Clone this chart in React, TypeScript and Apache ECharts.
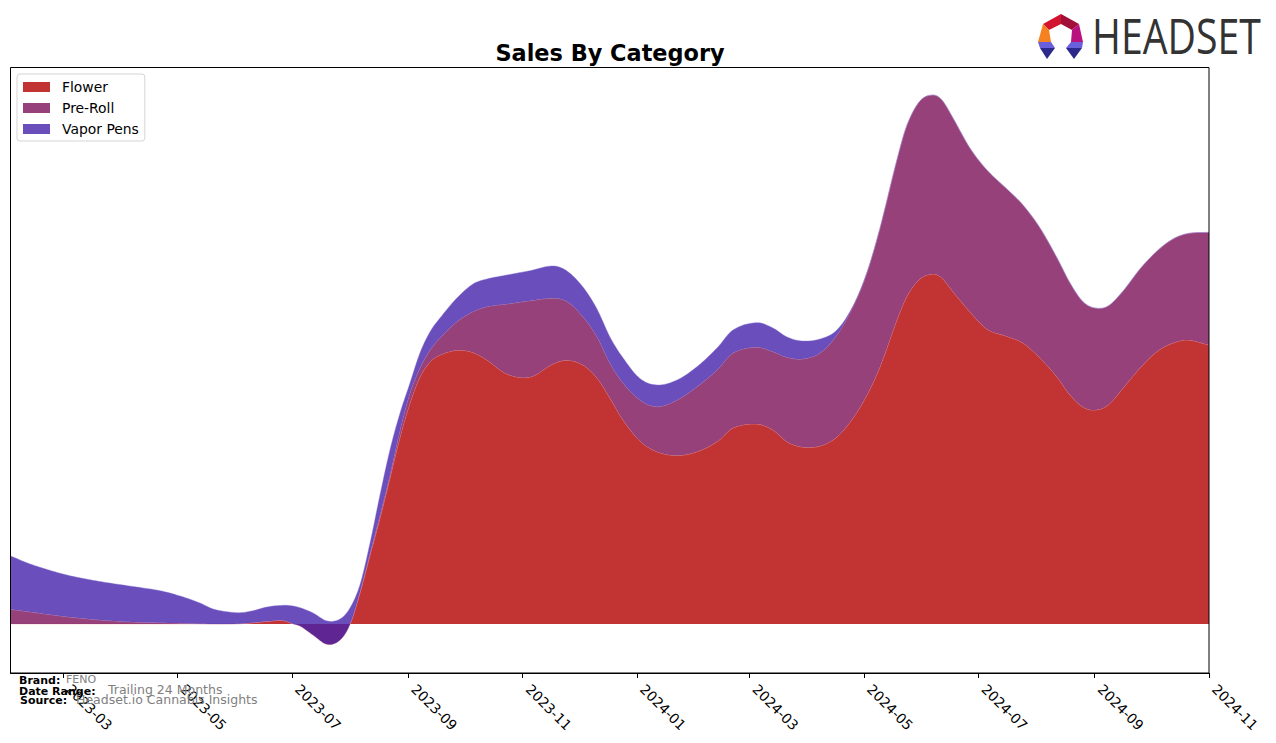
import React, { useEffect, useRef } from "react";
import * as echarts from "echarts";

const tickLabels = ["2023-03","2023-05","2023-07","2023-09","2023-11","2024-01","2024-03","2024-05","2024-07","2024-09","2024-11"];
const startDate = "2023-02-01";
const endDate = "2024-11-01";
// days since the start of the range
const dayOffsets = [0,12,30.1,47.7,65.3,79.7,90.4,101,108,115.4,122.4,129.3,136.8,145.3,150.6,154.4,161.3,168.8,175.7,181,186.3,191.7,197,202.3,207.7,213,218.3,223.7,229,238,246.6,254,264.7,277,289.2,296.7,305.2,312.7,319.6,326.6,335.6,344.7,355.4,366,376.7,385.2,398,406.5,414,422,431.6,440.6,449.2,456.6,463.6,472.6,478,484.9,491.8,496.6,502.5,511.5,520.6,531.8,539.8,548.9,558,564.9,571.8,578.2,585.2,593.2,602.2,611.3,619.8,627.8,639];
const flower = [0,0,0,0,0,0,0,0,0,0,0.3,1.3,2.7,3.5,0.2,-2,-11,-20.3,-16,-0.3,31,69,106,146,187,221,247,262,269,273.7,271.5,264,250,247,260,263.7,259,246,226,204,183,172.3,168.5,172.3,182.3,196,200,194,182.3,177,178,187,206,229,257.3,304,328,345,350,346,332.3,312.3,295,287.3,281,266,247,229,217,214,219,236,256,272.5,281,284,279];
const preRoll = [14.7,11.7,7.3,4,2,1.3,0.8,0.3,0,0,0,0,0,0,0,0,0,0,0,0,1,2,3,3,7,10,9,12,17,28.6,40.8,53.3,70,76.3,65.7,58.8,48.3,41.3,35,37,41,45,55.5,65,71.7,75,76.7,78.3,84.4,88,93,102,111.3,122,138.7,160,171,178,179,178,173.7,163.7,159,146.7,138,130,119,112,105.3,102,99,97,99,100.5,104,106.5,112.7];
const vaporPens = [53.3,47.3,41.7,38.5,35.5,32,27.2,20.7,15,12.3,11,12,14.3,15.2,17.8,18.3,22,23.3,21,16.3,7,10,20,25,17,10,15,18.3,20,23.7,27.7,27.7,29,30,32.3,30.5,29.7,27.7,26,25,21.5,21.7,20,20,22,23,24.6,23.7,20.3,18,14,5,0.7,0.5,0,0,0,0,0,0,0,0,0,0,0,0,0,0,0,0,0,0,0,0,0,0,0];

const FLOWER = "rgba(179,0,0,0.8)";
const PREROLL = "rgba(124,17,89,0.8)";
const VAPOR = "rgba(69,34,171,0.8)";
const DAY = 86400000;
const t0 = Date.parse(startDate);
const xs = dayOffsets.map((d) => t0 + d * DAY);

const addUp = (a: number[], b: number[]) => a.map((v, i) => v + b[i]);
const zero = flower.map(() => 0);
const top1 = flower;
const top2 = addUp(top1, preRoll);
const top3 = addUp(top2, vaporPens);

// Smooth curve through pixel points (cubic Hermite with finite-difference slopes).
function curve(p: number[][]): number[][] {
  const n = p.length;
  const m = p.map((_, i) => {
    const a = p[Math.max(i - 1, 0)], b = p[Math.min(i + 1, n - 1)];
    return (b[1] - a[1]) / (b[0] - a[0]);
  });
  const out: number[][] = [];
  for (let i = 0; i < n - 1; i++) {
    const h = p[i + 1][0] - p[i][0];
    const steps = Math.max(2, Math.ceil(h / 2));
    for (let s = 0; s < steps; s++) {
      const t = s / steps, t2 = t * t, t3 = t2 * t;
      const y = (2*t3 - 3*t2 + 1) * p[i][1] + (t3 - 2*t2 + t) * h * m[i] + (-2*t3 + 3*t2) * p[i+1][1] + (t3 - t2) * h * m[i+1];
      out.push([p[i][0] + t * h, y]);
    }
  }
  out.push(p[n - 1]);
  return out;
}

const band = (lower: number[], upper: number[], fill: string, edge: string) => (params: any, api: any) => {
  if (params.dataIndex !== 0) return null;
  const up = curve(upper.map((v, i) => api.coord([xs[i], v])));
  const lo = curve(lower.map((v, i) => api.coord([xs[i], v])));
  return {
    type: "group",
    children: [
      { type: "polygon", shape: { points: [...up, ...lo.reverse()] }, style: { fill, stroke: "none" } },
      { type: "polyline", shape: { points: up }, style: { fill: "none", stroke: edge, lineWidth: 0.8 } },
    ],
  };
};

const logoPieces: [string, number[][]][] = [
  ["#d2152f", [[1061,14],[1061,24],[1049,30],[1043,24]]],
  ["#a20f38", [[1061,14],[1079,24],[1072,30],[1061,24]]],
  ["#f58220", [[1043,24],[1049,30],[1051,42],[1038,42]]],
  ["#b8127e", [[1079,24],[1083,42],[1071,42],[1072,30]]],
  ["#6a5fdc", [[1038,42],[1051,42],[1055,48],[1040,48]]],
  ["#2b2a8c", [[1040,48],[1055,48],[1047,59]]],
  ["#6a5fdc", [[1071,42],[1083,42],[1082,48],[1066,48]]],
  ["#2b2a8c", [[1066,48],[1082,48],[1074,59]]],
];

const DJ = "DejaVu Sans";

export default function App() {
  const ref = useRef<HTMLDivElement>(null);
  useEffect(() => {
    const chart = echarts.init(ref.current!, undefined, { renderer: "svg" });
    const mk = (name: string, vals: number[], lower: number[], upper: number[], fill: string, edge: string) => ({
      type: "custom" as const,
      name,
      silent: true,
      clip: false,
      coordinateSystem: "cartesian2d",
      encode: { x: 0, y: 1 },
      itemStyle: { color: fill },
      data: vals.map((v, i) => [xs[i], upper[i]]),
      renderItem: band(lower, upper, fill, edge),
    });
    chart.setOption({
      animation: false,
      backgroundColor: "#fff",
      title: {
        text: "Sales By Category",
        left: 605,
        textAlign: "center",
        top: 37,
        textStyle: { fontFamily: DJ, fontSize: 22.4, fontWeight: "bold", color: "#000" },
      },
      legend: {
        left: 17,
        top: 74,
        orient: "vertical",
        padding: [6, 6, 5, 6],
        itemWidth: 27,
        itemHeight: 10,
        itemGap: 7,
        icon: "rect",
        backgroundColor: "#fff",
        borderColor: "#d5d5d5",
        borderWidth: 1,
        borderRadius: 3,
        textStyle: { fontFamily: DJ, fontSize: 13.9, color: "#000", lineHeight: 14, padding: [0, 0, 0, 7] },
        data: ["Flower", "Pre-Roll", "Vapor Pens"],
      },
      grid: { left: 10.5, top: 67.5, width: 1198.5, height: 605.5 },
      xAxis: {
        type: "value",
        min: t0,
        max: Date.parse(endDate),
        splitLine: { show: false },
        axisLine: { show: true, onZero: false, lineStyle: { color: "#000" } },
        axisTick: {
          show: true,
          length: 5,
          lineStyle: { color: "#000" },
          customValues: tickLabels.map((t) => Date.parse(t + "-01")),
        },
        axisLabel: {
          show: true,
          rotate: -45,
          margin: 8,
          padding: [0, 0, 0, 8],
          hideOverlap: false,
          color: "#000",
          fontFamily: DJ,
          fontSize: 13.9,
          customValues: tickLabels.map((t) => Date.parse(t + "-01")),
          formatter: (v: number) => new Date(v).toISOString().slice(0, 7),
        },
      },
      yAxis: { type: "value", min: -49, max: 556.5, show: false, splitLine: { show: false } },
      series: [
        mk("Flower", flower, zero, top1, FLOWER, "rgba(240,170,170,0.6)"),
        mk("Pre-Roll", preRoll, top1, top2, PREROLL, "rgba(200,150,190,0.55)"),
        mk("Vapor Pens", vaporPens, top2, top3, VAPOR, "rgba(130,110,210,0.5)"),
      ],
      graphic: [
        { type: "rect", z: 50, silent: true, shape: { x: 10.5, y: 67.5, width: 1198.5, height: 605.5 },
          style: { fill: "none", stroke: "#000", lineWidth: 1 } },
        ...logoPieces.map(([fill, points]) => ({ type: "polygon", z: 60, silent: true, shape: { points }, style: { fill } })),
        { type: "text", z: 60, silent: true, x: 1092, y: 11, scaleX: 0.8, style: { text: "HEADSET", fill: "#333", font: '400 49px "Open Sans"' } },
        { type: "text", z: 60, silent: true, x: 19, y: 675, style: { text: "Brand:", fill: "#000", font: `bold 11px "${DJ}"` } },
        { type: "text", z: 60, silent: true, x: 66, y: 674, style: { text: "FENO", fill: "#808080", font: `11px "${DJ}"` } },
        { type: "text", z: 60, silent: true, x: 19, y: 685.5, style: { text: "Date Range:", fill: "#000", font: `bold 11px "${DJ}"` } },
        { type: "text", z: 60, silent: true, x: 108, y: 683, style: { text: "Trailing 24 Months", fill: "#808080", font: `12.5px "${DJ}"` } },
        { type: "text", z: 60, silent: true, x: 20, y: 695, style: { text: "Source:", fill: "#000", font: `bold 11px "${DJ}"` } },
        { type: "text", z: 60, silent: true, x: 76, y: 693, style: { text: "Headset.io Cannabis Insights", fill: "#808080", font: `12.5px "${DJ}"` } },
      ],
    });
    return () => chart.dispose();
  }, []);
  return <div ref={ref} style={{ position: "absolute", left: 0, top: 0, width: 1276, height: 743 }} />;
}
